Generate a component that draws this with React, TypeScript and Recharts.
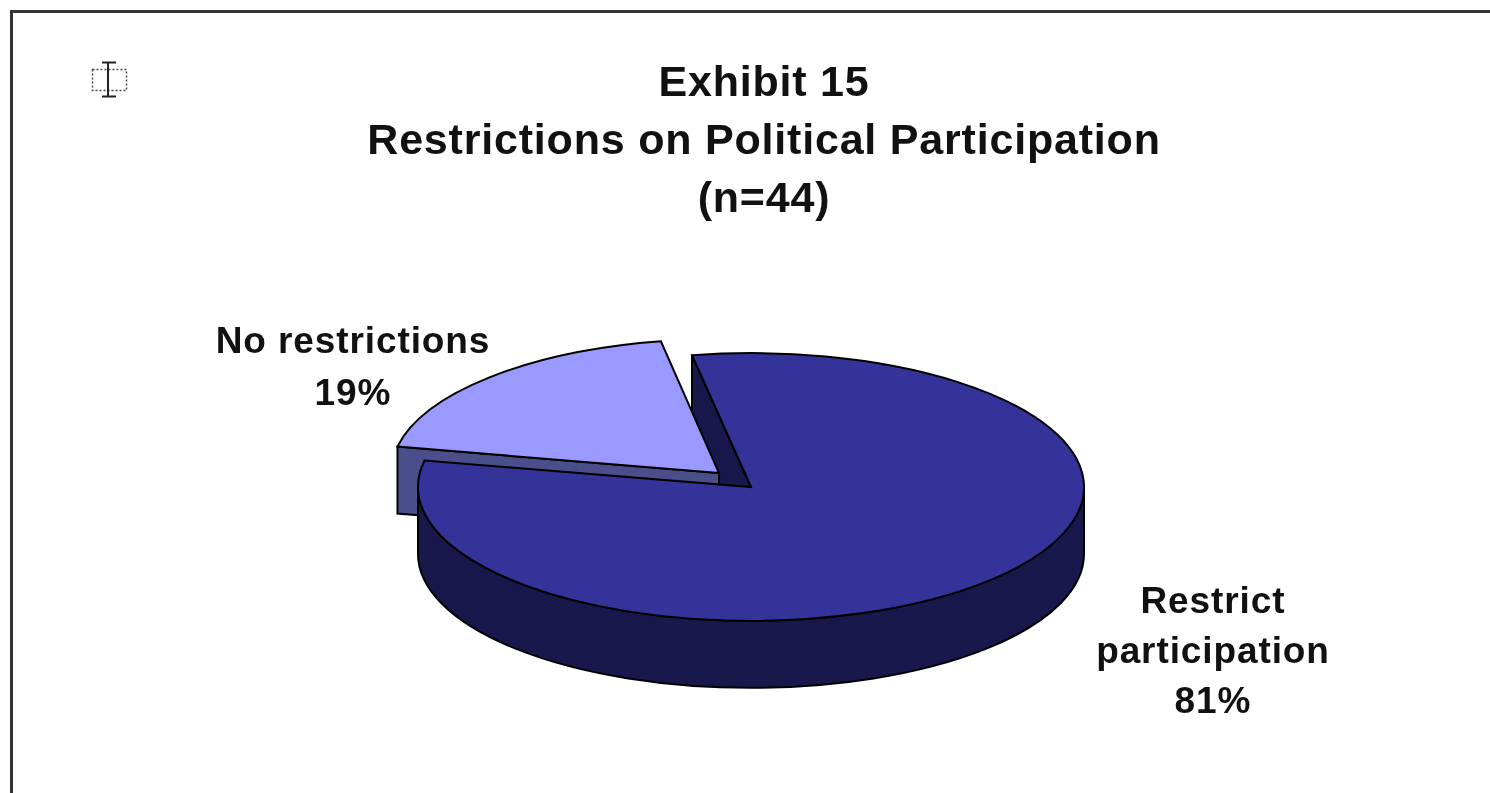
import { PieChart, Pie } from 'recharts';

const categories = ['No restrictions', 'Restrict participation'];
const shares = [19, 81];
const titleLines = ['Exhibit 15', 'Restrictions on Political Participation', '(n=44)'];

const data = categories.map((name, i) => ({ name, value: shares[i] }));

const WIDTH = 1490;
const HEIGHT = 793;
const FONT = '"Liberation Sans", Arial, sans-serif';

// the pie is lying down: y radius is squashed and it gets a wall below it
const SQUASH = 0.402;
const DEPTH = 67;
const EXPLODED = { dx: -32, dy: -14, rxScale: 0.985 };
const START_ANGLE = 168.6;

const TOP_MAIN = '#333399';
const WALL_MAIN = '#18184c';
const TOP_LIGHT = '#9999ff';
const WALL_LIGHT = '#4a4e8a';
const EDGE = '#000';
const EDGE_W = 2;

const RAD = Math.PI / 180;

function ellipsePoint(cx: number, cy: number, rx: number, ry: number, deg: number) {
  return { x: cx + rx * Math.cos(deg * RAD), y: cy - ry * Math.sin(deg * RAD) };
}

function topPath(cx: number, cy: number, rx: number, ry: number, start: number, end: number) {
  const a = ellipsePoint(cx, cy, rx, ry, start);
  const b = ellipsePoint(cx, cy, rx, ry, end);
  const large = Math.abs(start - end) > 180 ? 1 : 0;
  return `M${cx},${cy} L${a.x},${a.y} A${rx},${ry} 0 ${large} 1 ${b.x},${b.y} Z`;
}

// wall of a straight cut, from the centre out to the rim at the given angle
function cutWall(cx: number, cy: number, rx: number, ry: number, deg: number) {
  const p = ellipsePoint(cx, cy, rx, ry, deg);
  return `M${cx},${cy} L${p.x},${p.y} L${p.x},${p.y + DEPTH} L${cx},${cy + DEPTH} Z`;
}

// under layer: only the inner cut of the big slice, the light slice sits on it
function BackShape(props: any) {
  const { cx, cy, outerRadius, startAngle, name } = props;
  if (name !== categories[1]) return <g />;
  const d = cutWall(cx, cy, outerRadius, outerRadius * SQUASH, startAngle);
  return <path d={d} fill={WALL_MAIN} stroke={EDGE} strokeWidth={EDGE_W} />;
}

function SliceShape(props: any) {
  const { cx, cy, outerRadius, startAngle, endAngle, name } = props;
  const ry = outerRadius * SQUASH;

  if (name === categories[0]) {
    const lcx = cx + EXPLODED.dx;
    const lcy = cy + EXPLODED.dy;
    const lrx = outerRadius * EXPLODED.rxScale;
    return (
      <g>
        <path d={cutWall(lcx, lcy, lrx, ry, startAngle)} fill={WALL_LIGHT} stroke={EDGE} strokeWidth={EDGE_W} />
        <path d={topPath(lcx, lcy, lrx, ry, startAngle, endAngle)} fill={TOP_LIGHT} stroke={EDGE} strokeWidth={EDGE_W} />
      </g>
    );
  }

  const left = ellipsePoint(cx, cy, outerRadius, ry, 180);
  const right = ellipsePoint(cx, cy, outerRadius, ry, 0);
  const rim =
    `M${left.x},${left.y} A${outerRadius},${ry} 0 0 0 ${right.x},${right.y} ` +
    `L${right.x},${right.y + DEPTH} A${outerRadius},${ry} 0 0 1 ${left.x},${left.y + DEPTH} Z`;
  return (
    <g>
      <path d={rim} fill={WALL_MAIN} stroke={EDGE} strokeWidth={EDGE_W} />
      <path d={topPath(cx, cy, outerRadius, ry, startAngle, endAngle)} fill={TOP_MAIN} stroke={EDGE} strokeWidth={EDGE_W} />
    </g>
  );
}

function SliceLabel(props: any) {
  const { name, value } = props;
  const isFirst = name === categories[0];
  // Excel broke the long label in two
  const lines = isFirst ? [name] : name.split(' ');
  const x = isFirst ? 353 : 1213;
  const y = isFirst ? 353 : 613;
  const step = isFirst ? 52 : 50;
  return (
    <text
      textAnchor="middle"
      fontFamily={FONT}
      fontWeight={700}
      fontSize={37}
      letterSpacing={0.9}
      fill="#111"
      style={{ filter: 'blur(0.5px)' }}
    >
      {[...lines, `${value}%`].map((t: string, i: number) => (
        <tspan key={i} x={x} y={y + i * step}>
          {t}
        </tspan>
      ))}
    </text>
  );
}

function CursorIcon() {
  return (
    <svg width={40} height={40} style={{ position: 'absolute', left: 88, top: 60 }}>
      <rect x={4.5} y={9.5} width={34} height={21} fill="none" stroke="#444" strokeWidth={1.5} strokeDasharray="2 2" />
      <path d="M20,2.5 V36.5 M14,2.5 H28 M14,36.5 H28" fill="none" stroke="#222" strokeWidth={2} />
    </svg>
  );
}

export default function App() {
  return (
    <div style={{ position: 'absolute', left: 0, top: 0, width: WIDTH, height: HEIGHT, overflow: 'hidden', background: '#fff' }}>
      <div
        style={{
          position: 'absolute',
          left: 9.5,
          top: 9.5,
          width: WIDTH,
          height: HEIGHT,
          borderLeft: '3px solid #333',
          borderTop: '3px solid #333',
        }}
      />
      <CursorIcon />
      {titleLines.map((line, i) => (
        <div
          key={line}
          style={{
            position: 'absolute',
            left: 0,
            width: 1528,
            top: 57 + i * 58,
            textAlign: 'center',
            fontFamily: FONT,
            fontWeight: 700,
            fontSize: 43,
            letterSpacing: 0.8,
            lineHeight: '48px',
            color: '#111',
            filter: 'blur(0.5px)',
          }}
        >
          {line}
        </div>
      ))}
      <div style={{ position: 'absolute', left: 0, top: 0 }}>
        <PieChart width={WIDTH} height={HEIGHT} margin={{ top: 0, right: 0, bottom: 0, left: 0 }}>
          <Pie
            data={data}
            dataKey="value"
            nameKey="name"
            cx={751}
            cy={487}
            outerRadius={333}
            startAngle={START_ANGLE}
            endAngle={START_ANGLE - 360}
            shape={BackShape}
            isAnimationActive={false}
          />
          <Pie
            data={data}
            dataKey="value"
            nameKey="name"
            cx={751}
            cy={487}
            outerRadius={333}
            startAngle={START_ANGLE}
            endAngle={START_ANGLE - 360}
            shape={SliceShape}
            label={SliceLabel}
            labelLine={false}
            isAnimationActive={false}
          />
        </PieChart>
      </div>
    </div>
  );
}
